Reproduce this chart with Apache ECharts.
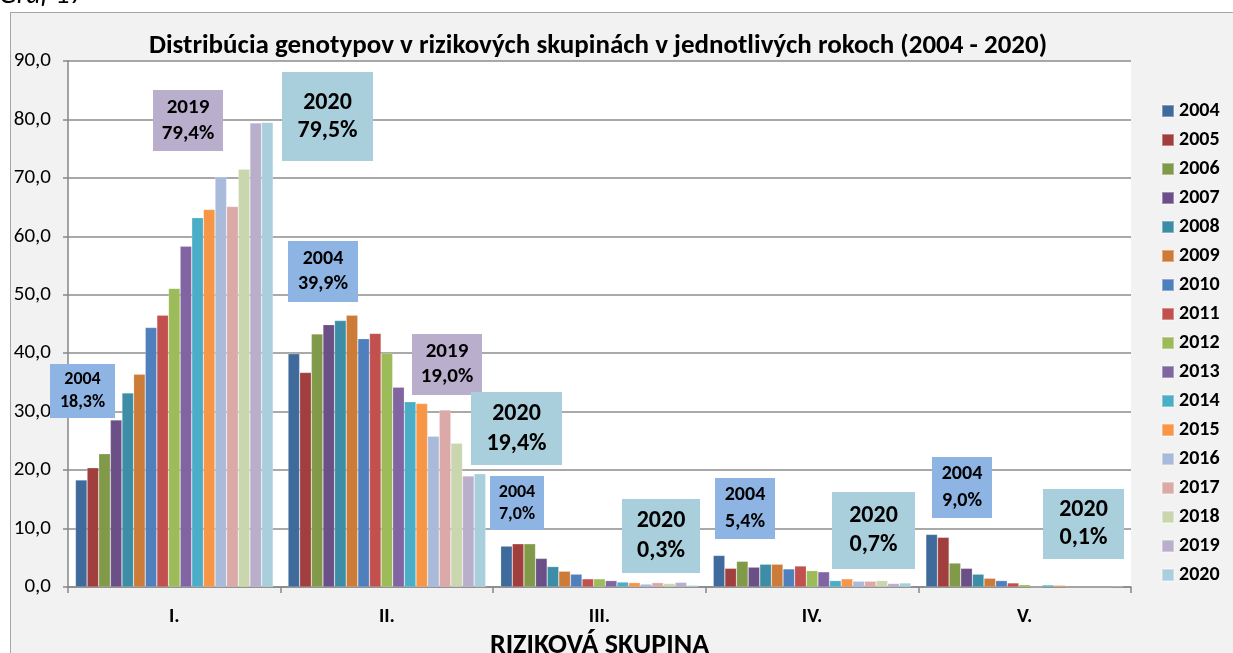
<!DOCTYPE html>
<html><head><meta charset="utf-8">
<script src="https://cdn.jsdelivr.net/npm/echarts@6/dist/echarts.min.js"></script>
<style>
html,body{margin:0;padding:0;background:#fff;overflow:hidden}
#panel{position:absolute;left:10px;top:12px;width:1240px;height:700px;background:#f2f2f2;border:1px solid #a6a6a6;}
#c{position:absolute;left:0;top:0;width:1233px;height:653px}
</style></head><body><div id="panel"></div><div id="c"></div>
<script>
// ---- data ----
const categories = ['I.', 'II.', 'III.', 'IV.', 'V.'];
const years = ['2004','2005','2006','2007','2008','2009','2010','2011','2012','2013','2014','2015','2016','2017','2018','2019','2020'];
// values per risk group, one value per year 2004..2020
const groupI   = [18.3, 20.4, 22.8, 28.6, 33.2, 36.4, 44.4, 46.5, 51.1, 58.3, 63.2, 64.6, 70.2, 65.1, 71.5, 79.4, 79.5];
const groupII  = [39.9, 36.7, 43.3, 44.9, 45.6, 46.5, 42.5, 43.4, 40.0, 34.2, 31.7, 31.4, 25.8, 30.3, 24.6, 19.0, 19.4];
const groupIII = [7.0, 7.4, 7.4, 4.9, 3.5, 2.7, 2.2, 1.4, 1.4, 1.1, 0.85, 0.75, 0.5, 0.75, 0.6, 0.8, 0.3];
const groupIV  = [5.4, 3.2, 4.4, 3.4, 3.9, 3.9, 3.1, 3.6, 2.8, 2.6, 1.1, 1.4, 1.0, 1.0, 1.1, 0.6, 0.7];
const groupV   = [9.0, 8.5, 4.1, 3.2, 2.2, 1.5, 1.1, 0.7, 0.4, 0.0, 0.35, 0.3, 0.0, 0.0, 0.0, 0.0, 0.1];
const yTicks = [0, 10, 20, 30, 40, 50, 60, 70, 80, 90];
const titleText = 'Distribúcia genotypov v rizikových skupinách v jednotlivých rokoch (2004 - 2020)';
const axisName = 'RIZIKOVÁ SKUPINA';
const captionText = 'Graf 17';
// annotated values: [category index, year]
const notes = [[0,'2004'],[0,'2019'],[0,'2020'],[1,'2004'],[1,'2019'],[1,'2020'],[2,'2004'],[2,'2020'],[3,'2004'],[3,'2020'],[4,'2004'],[4,'2020']];

// ---- styles ----
const colors = ['#3f6a9c','#a03f3d','#809a49','#6b5087','#3c8da5','#cd7b39','#4f80bd','#c1504e','#9cbb59','#8065a2','#4badc6','#f79647','#a9badb','#dba9a8','#c9d6ae','#b9aecb','#a9cfdc'];
const FONT = 'Carlito, Lato, "Open Sans", sans-serif';
const noteBoxColor = {'2004':'#8eb4e3','2019':'#b9aecb','2020':'#a9cfdc'};
// box layout: [x, y, w, h, fontSize, lineHeight]
const noteLayout = [
  [50,364,65,54,18,23],
  [153,90,70,61,21,26],
  [282,72,91,89,24,28],
  [288,241,70,61,20,25],
  [412,334,70,61,21,25],
  [471,392,91,73,24,30],
  [490,476,54,54,18,22],
  [622,499,78,74,24,30],
  [715,478,60,61,20,27],
  [832,492,83,77,24,29],
  [932,457,60,61,20,27],
  [1043,489,81,70,24,28]
];

const groups = [groupI, groupII, groupIII, groupIV, groupV];
const fmt = v => v.toFixed(1).replace('.', ',');

const series = years.map((y, k) => ({
  name: y, type: 'bar',
  data: groups.map(g => g[k]),
  barGap: '0%', barCategoryGap: '7%',
  itemStyle: {color: colors[k], borderColor: 'rgba(255,255,255,0.35)', borderWidth: 0.6},
  emphasis: {disabled: true},
  animation: false
}));

const graphics = [
  {type:'text', left: -1, top: -18, style:{text: captionText, font:'italic 28px ' + FONT, fill:'#000'}}
];
notes.forEach((n, i) => {
  const [ci, yr] = n;
  const v = groups[ci][years.indexOf(yr)];
  const [x, y, w, h, fs, lh] = noteLayout[i];
  graphics.push({type:'rect', shape:{x, y, width:w, height:h}, style:{fill: noteBoxColor[yr]}, z: 50});
  graphics.push({type:'text', x: x + w/2, y: y + h/2, z: 51,
    style:{text: yr + '\n' + fmt(v) + '%', fill:'#000', font:'bold ' + fs + 'px ' + FONT, align:'center', verticalAlign:'middle', lineHeight: lh}});
});

const chart = echarts.init(document.getElementById('c'), null, {renderer:'canvas'});
chart.setOption({
  animation: false,
  textStyle: {fontFamily: FONT},
  title: {text: titleText, left: 593, top: 28, textAlign: 'center',
    textStyle: {fontFamily: FONT, fontWeight: 'bold', fontSize: 27, color: '#000'}},
  legend: {orient: 'vertical', left: 1156, top: 96, itemWidth: 12, itemHeight: 12, itemGap: 9,
    icon: 'rect', data: years, selectedMode: false,
    textStyle: {fontFamily: FONT, fontWeight: 'bold', fontSize: 20, color: '#000'}},
  grid: {left: 68, right: 102, top: 61, bottom: 66, show: true, backgroundColor: '#fff', borderWidth: 0,
    containLabel: false, outerBoundsMode: 'none'},
  xAxis: {type: 'category', data: categories,
    axisLine: {lineStyle: {color: '#868686', width: 1.5}},
    axisTick: {show: true, alignWithLabel: false, length: 6, lineStyle: {color: '#868686', width: 1.5}},
    axisLabel: {fontFamily: FONT, fontWeight: 'bold', fontSize: 20, color: '#000', margin: 20},
    name: axisName, nameLocation: 'middle', nameGap: 37,
    nameTextStyle: {fontFamily: FONT, fontWeight: 'bold', fontSize: 28, color: '#000'}},
  yAxis: {type: 'value', min: yTicks[0], max: yTicks[yTicks.length-1], interval: yTicks[1]-yTicks[0],
    axisLine: {show: true, lineStyle: {color: '#868686', width: 1.5}},
    axisTick: {show: true, length: 5, lineStyle: {color: '#868686', width: 1.5}},
    axisLabel: {formatter: fmt, fontFamily: FONT, fontSize: 21, color: '#000', margin: 17},
    splitLine: {lineStyle: {color: '#8c8c8c', width: 1.5}}},
  series: series,
  graphic: graphics
});
</script></body></html>
